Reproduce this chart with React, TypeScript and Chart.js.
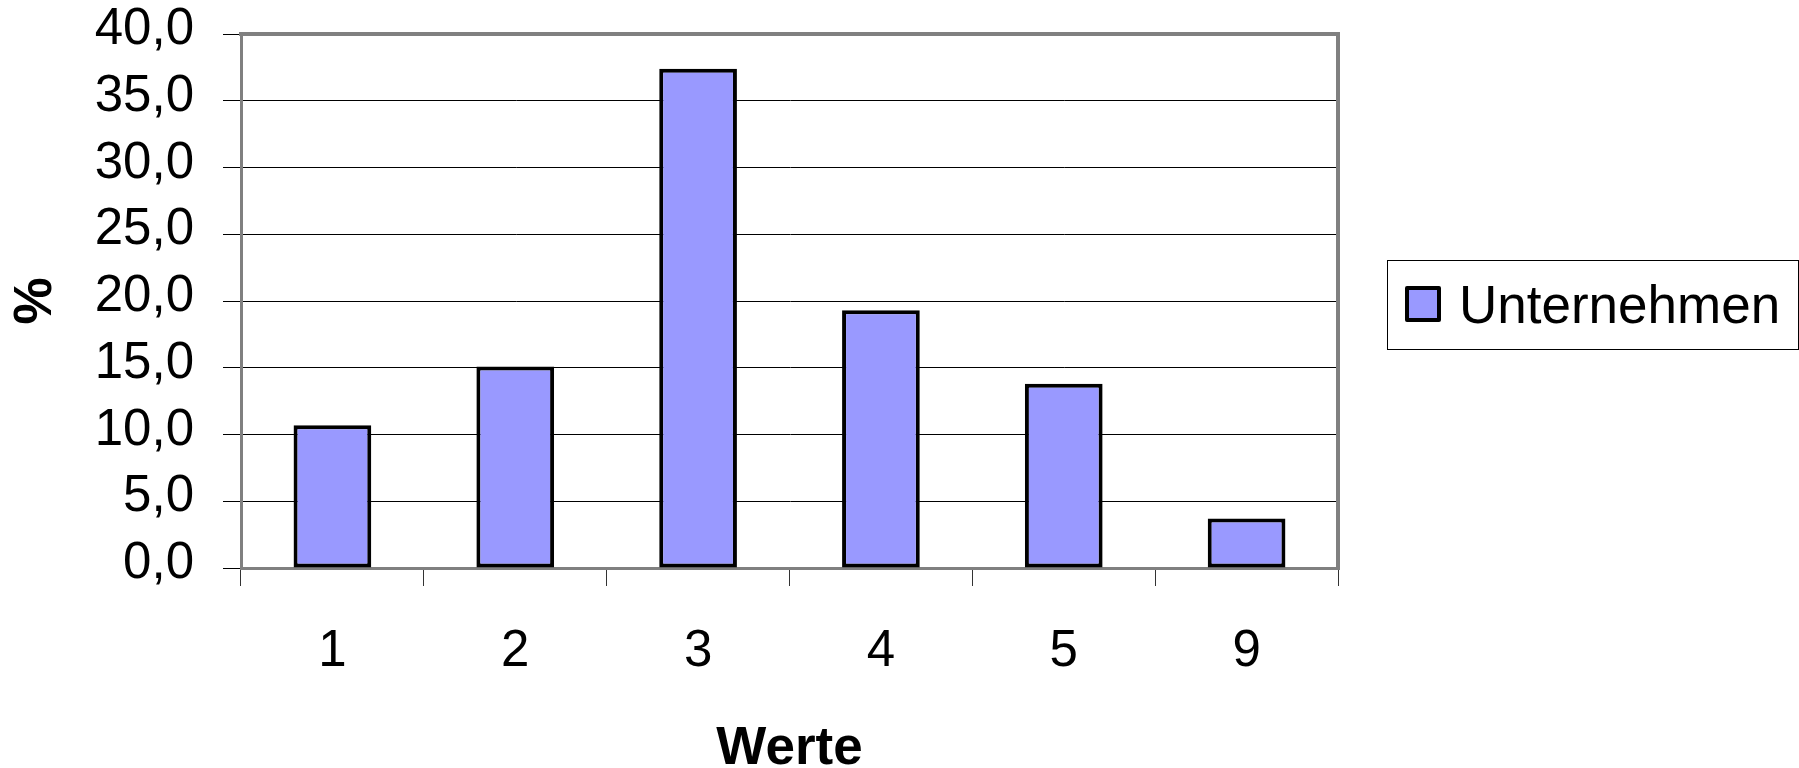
import React, { useEffect, useRef } from "react";
import { Chart, registerables } from "chart.js";

Chart.register(...registerables);

const categories: string[] = ["1", "2", "3", "4", "5", "9"];
const seriesLabel = "Unternehmen";
const seriesValues: number[] = [10.7, 15.1, 37.4, 19.3, 13.8, 3.7];
const yTickMin = 0;
const yTickMax = 40;
const yTickStep = 5;
const xTitle = "Werte";
const yTitle = "%";

const FONT = "'Liberation Sans', Arial, Helvetica, sans-serif";
const BAR_FILL = "#9999FF";
const FRAME_GRAY = "#808080";

const formatTick = (v: number) => v.toFixed(1).replace(".", ",");

const framePlugin = {
  id: "excelFrame",
  afterDatasetsDraw(chart: any) {
    const { ctx, chartArea } = chart;
    ctx.save();
    ctx.strokeStyle = FRAME_GRAY;
    ctx.lineWidth = 4;
    ctx.lineCap = "square";
    ctx.beginPath();
    ctx.moveTo(chartArea.left, chartArea.top);
    ctx.lineTo(chartArea.right, chartArea.top);
    ctx.lineTo(chartArea.right, chartArea.bottom);
    ctx.stroke();
    ctx.restore();
  },
};

const legendPlugin = {
  id: "boxedLegend",
  afterDraw(chart: any) {
    const { ctx, chartArea, width } = chart;
    const ds = chart.data.datasets[0];
    const boxLeft = chartArea.right + 49;
    const boxRight = width - 1;
    const boxH = 89;
    const cy = (chartArea.top + chartArea.bottom) / 2 + 3;
    const boxTop = Math.round(cy - boxH / 2) + 0.5;
    ctx.save();
    ctx.strokeStyle = "#000";
    ctx.lineWidth = 1;
    ctx.strokeRect(Math.round(boxLeft) + 0.5, boxTop, boxRight - Math.round(boxLeft), boxH);
    const sw = 32;
    const sx = boxLeft + 20;
    const sy = cy - sw / 2;
    ctx.fillStyle = ds.backgroundColor;
    ctx.fillRect(sx, sy, sw, sw);
    ctx.strokeStyle = ds.borderColor;
    ctx.lineWidth = 4;
    ctx.lineJoin = "round";
    ctx.strokeRect(sx, sy, sw, sw);
    ctx.fillStyle = "#000";
    ctx.font = `53px ${FONT}`;
    ctx.textBaseline = "alphabetic";
    ctx.textAlign = "left";
    ctx.fillText(ds.label, boxLeft + 72, cy + 19);
    ctx.restore();
  },
};

export default function App() {
  const canvasRef = useRef<HTMLCanvasElement | null>(null);

  useEffect(() => {
    const canvas = canvasRef.current;
    if (!canvas) return;
    const chart = new Chart(canvas, {
      type: "bar",
      data: {
        labels: categories,
        datasets: [
          {
            label: seriesLabel,
            data: seriesValues,
            backgroundColor: BAR_FILL,
            borderColor: "#000000",
            borderWidth: 4,
            borderSkipped: false,
            categoryPercentage: 1,
            barPercentage: 0.425,
          },
        ],
      },
      options: {
        animation: false,
        responsive: false,
        devicePixelRatio: 1,
        layout: { padding: { top: 34, right: 461, left: 0, bottom: 0 } },
        plugins: {
          legend: { display: false },
          tooltip: { enabled: false },
        },
        scales: {
          x: {
            type: "category",
            afterFit(scale: any) {
              scale.height = 200;
              scale.paddingLeft = 0;
              scale.paddingRight = 0;
            },
            grid: {
              display: true,
              drawOnChartArea: false,
              offset: true,
              tickLength: 18,
              tickColor: "#333333",
              lineWidth: 1,
            },
            border: { display: true, color: FRAME_GRAY, width: 3 },
            ticks: {
              color: "#000",
              font: { family: FONT, size: 51 },
              padding: 35,
              maxRotation: 0,
              autoSkip: false,
            },
            title: {
              display: true,
              text: xTitle,
              color: "#000",
              font: { family: FONT, size: 53, weight: "bold", lineHeight: 0.7 },
              padding: { top: 0, bottom: 0 },
            },
          },
          y: {
            type: "linear",
            min: yTickMin,
            max: yTickMax,
            afterFit(scale: any) {
              scale.width = 241;
              scale.paddingTop = 0;
              scale.paddingBottom = 0;
            },
            grid: {
              color: "#000000",
              lineWidth: 1,
              tickLength: 18,
              tickColor: "#000000",
              drawOnChartArea: true,
            },
            border: { display: true, color: FRAME_GRAY, width: 3 },
            ticks: {
              stepSize: yTickStep,
              color: "#000",
              font: { family: FONT, size: 51 },
              padding: 29,
              labelOffset: -4,
              autoSkip: false,
              callback: (v: any) => formatTick(Number(v)),
            },
            title: {
              display: true,
              text: yTitle,
              color: "#000",
              font: { family: FONT, size: 53, weight: "bold", lineHeight: 1.2 },
              padding: { top: 5, bottom: 0 },
            },
          },
        },
      },
      plugins: [framePlugin, legendPlugin],
    });
    return () => chart.destroy();
  }, []);

  return (
    <div style={{ position: "fixed", left: 0, top: 0, width: 1799, height: 768, background: "#fff" }}>
      <canvas ref={canvasRef} width={1799} height={768} style={{ display: "block" }} />
    </div>
  );
}
